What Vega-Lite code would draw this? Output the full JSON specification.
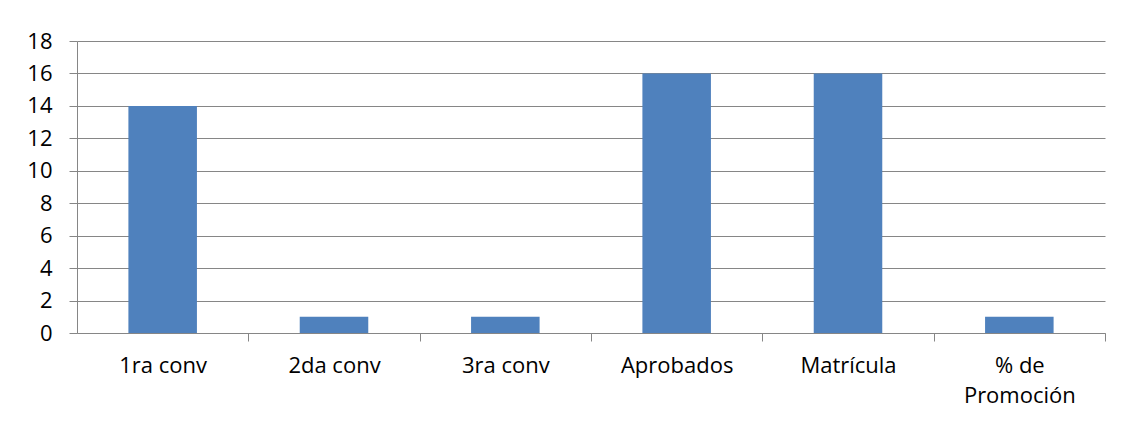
{
  "$schema": "https://vega.github.io/schema/vega-lite/v6.json",
  "width": 1028,
  "height": 292,
  "autosize": {"type": "none"},
  "padding": {"left": 77, "top": 41, "right": 16, "bottom": 95},
  "background": "white",
  "data": {
    "values": [
      {"cat": "1ra conv", "val": 14},
      {"cat": "2da conv", "val": 1},
      {"cat": "3ra conv", "val": 1},
      {"cat": "Aprobados", "val": 16},
      {"cat": "Matrícula", "val": 16},
      {"cat": "% de\nPromoción", "val": 1}
    ]
  },
  "mark": {"type": "bar", "color": "#4F81BD"},
  "encoding": {
    "x": {
      "field": "cat",
      "type": "nominal",
      "sort": null,
      "scale": {"paddingInner": 0.6, "paddingOuter": 0.3},
      "axis": {
        "title": null,
        "labelAngle": 0,
        "labelExpr": "split(datum.value, '\\n')",
        "labelLineHeight": 30,
        "labelFont": "Open Sans",
        "labelFontSize": 22,
        "labelColor": "#000000",
        "labelPadding": 14,
        "labelOffset": -85.67,
        "labelOverlap": false,
        "labelBound": false,
        "ticks": true,
        "tickOffset": 85.67,
        "tickSize": 8,
        "tickWidth": 1,
        "tickColor": "#868686",
        "domainColor": "#868686",
        "grid": false
      }
    },
    "y": {
      "field": "val",
      "type": "quantitative",
      "scale": {"domain": [0, 18]},
      "axis": {
        "title": null,
        "values": [0, 2, 4, 6, 8, 10, 12, 14, 16, 18],
        "labelFont": "Open Sans",
        "labelFontSize": 22,
        "labelColor": "#000000",
        "labelPadding": 17,
        "ticks": true,
        "tickSize": 8,
        "tickColor": "#868686",
        "domainColor": "#868686",
        "gridColor": "#868686",
        "grid": true
      }
    }
  },
  "config": {"view": {"stroke": null}}
}
